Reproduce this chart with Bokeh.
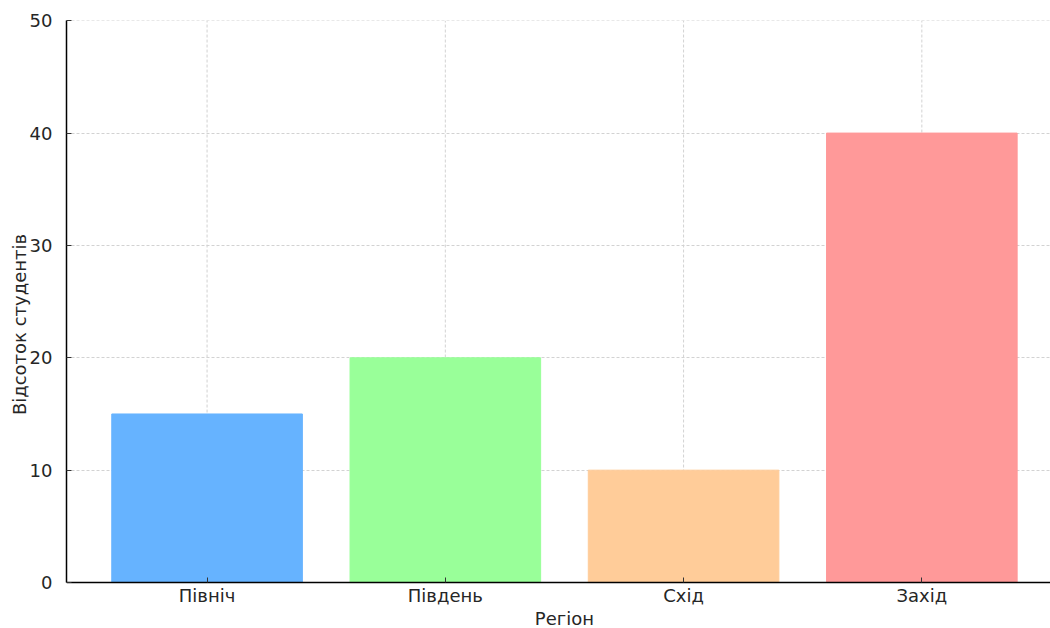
from bokeh.plotting import figure
from bokeh.models import ColumnDataSource, FixedTicker, Range1d, Label
from bokeh.embed import file_html
from bokeh.resources import INLINE

regions = ["Північ", "Південь", "Схід", "Захід"]
percent = [15, 20, 10, 40]
colors = ["#66b3ff", "#99ff99", "#ffcc99", "#ff9999"]
y_ticks = [0, 10, 20, 30, 40, 50]

xs = list(range(len(regions)))
src = ColumnDataSource(dict(x=xs, top=percent, color=colors))

# frame runs to the bottom of the canvas; the x axis is pinned at y = 0
y_lo = -(46 / 562) * y_ticks[-1]
p = figure(width=1050, height=628, output_backend="svg", toolbar_location=None,
           x_range=Range1d(-0.59, 3.54), y_range=Range1d(y_lo, y_ticks[-1] + 0.02),
           min_border_left=66, min_border_right=0, min_border_top=20, min_border_bottom=0)

grid_color = "#d2d2d2"

# vertical grid lines limited to the data area
p.xgrid.visible = False
p.segment(x0=xs, y0=[y_ticks[0]] * len(xs), x1=xs, y1=[y_ticks[-1]] * len(xs),
          line_color=grid_color, line_dash="3 2", line_width=1)
p.vbar(x="x", top="top", width=0.8, color="color", source=src)

p.outline_line_color = None
p.background_fill_color = "white"
p.border_fill_color = "white"

p.xaxis.fixed_location = 0
p.yaxis.bounds = (y_ticks[0], y_ticks[-1])
p.xaxis.ticker = FixedTicker(ticks=xs)
p.xaxis.major_label_overrides = {i: r for i, r in enumerate(regions)}
p.yaxis.ticker = FixedTicker(ticks=y_ticks)
p.xaxis.minor_tick_line_color = None
p.yaxis.minor_tick_line_color = None

for ax in (p.xaxis, p.yaxis):
    ax.axis_line_color = "black"
    ax.axis_line_width = 1.5
    ax.major_tick_in = 5
    ax.major_tick_out = 0
    ax.major_tick_line_color = "#333333"
    ax.major_label_text_font = "DejaVu Sans"
    ax.major_label_text_font_size = "18px"
    ax.major_label_text_color = "#262626"
    ax.axis_label_text_font = "DejaVu Sans"
    ax.axis_label_text_font_size = "18px"
    ax.axis_label_text_font_style = "normal"
    ax.axis_label_text_color = "#262626"

p.yaxis.axis_label = "Відсоток студентів"
p.xaxis.major_label_standoff = 2
p.yaxis.major_label_standoff = 14
p.yaxis.axis_label_standoff = -3

# x-axis title, centred under the categories like the reference
p.add_layout(Label(x=(xs[0] + xs[-1]) / 2, y=-(36 / 562) * y_ticks[-1], text="Регіон",
                   text_align="center", text_baseline="middle",
                   text_font="DejaVu Sans", text_font_size="18px", text_color="#262626"))

p.ygrid.grid_line_color = grid_color
p.ygrid.grid_line_dash = "3 2"
p.ygrid.grid_line_width = 1

open("out.html", "w").write(file_html(p, INLINE))
